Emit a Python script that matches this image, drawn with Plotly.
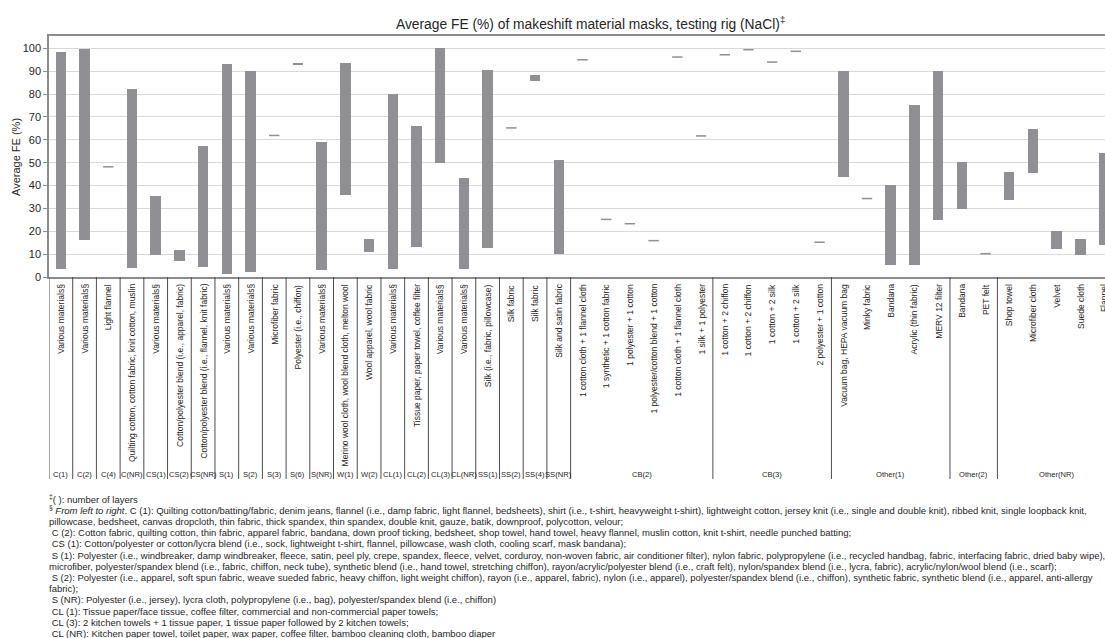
import plotly.graph_objects as go

# ---- data -------------------------------------------------------------
labels = [
    "Various materials§", "Various materials§", "Light flannel",
    "Quilting cotton, cotton fabric, knit cotton, muslin", "Various materials§",
    "Cotton/polyester blend (i.e., apparel, fabric)",
    "Cotton/polyester blend (i.e., flannel, knit fabric)",
    "Various materials§", "Various materials§", "Microfiber fabric",
    "Polyester (i.e., chiffon)", "Various materials§",
    "Merino wool cloth, wool blend cloth, melton wool", "Wool apparel, wool fabric",
    "Various materials§", "Tissue paper, paper towel, coffee filter",
    "Various materials§", "Various materials§", "Silk (i.e., fabric, pillowcase)",
    "Silk fabric", "Silk fabric", "Silk and satin fabric",
    "1 cotton cloth + 1 flannel cloth", "1 synthetic + 1 cotton fabric",
    "1 polyester + 1 cotton", "1 polyester/cotton blend + 1 cotton",
    "1 cotton cloth + 1 flannel cloth", "1 silk + 1 polyester",
    "1 cotton + 2 chiffon", "1 cotton + 2 chiffon", "1 cotton + 2 silk",
    "1 cotton + 2 silk", "2 polyester + 1 cotton",
    "Vacuum bag, HEPA vacuum bag", "Minky fabric", "Bandana",
    "Acrylic (thin fabric)", "MERV 12 filter",
    "Bandana", "PET felt",
    "Shop towel", "Microfiber cloth", "Velvet", "Suede cloth", "Flannel",
]

groups = ["C(1)", "C(2)", "C(4)", "C(NR)", "CS(1)", "CS(2)", "CS(NR)", "S(1)",
          "S(2)", "S(3)", "S(6)", "S(NR)", "W(1)", "W(2)", "CL(1)", "CL(2)",
          "CL(3)", "CL(NR)", "SS(1)", "SS(2)", "SS(4)", "SS(NR)",
          "CB(2)", "CB(3)", "Other(1)", "Other(2)", "Other(NR)"]
group_sizes = [1] * 22 + [6, 5, 5, 2, 5]

fe_low = [3.6, 16.2, 48.2, 3.8, 9.8, 7.2, 4.5, 1.5, 2.0, 61.9, 92.8, 2.9, 36.0,
          10.9, 3.4, 13.3, 49.7, 3.6, 12.7, 65.2, 85.8, 10.1, 95.0, 25.2, 23.3,
          15.9, 96.2, 61.7, 97.2, 99.4, 94.0, 98.7, 15.2, 43.7, 34.3, 5.1, 5.1,
          24.9, 29.9, 10.2, 33.5, 45.6, 12.2, 9.5, 13.8]
fe_high = [98.5, 99.7, 48.2, 82.1, 35.6, 11.8, 57.3, 93.0, 90.2, 61.9, 93.6,
           59.0, 93.7, 16.8, 80.2, 66.0, 100.0, 43.4, 90.4, 65.2, 88.2, 51.2,
           95.0, 25.2, 23.3, 15.9, 96.2, 61.7, 97.2, 99.4, 94.0, 98.7, 15.2,
           90.2, 34.3, 40.1, 75.1, 90.2, 50.1, 10.2, 45.8, 64.6, 20.0, 16.8, 54.2]

y_ticks = [0, 10, 20, 30, 40, 50, 60, 70, 80, 90, 100]

footnotes = [
    "<sup>‡</sup>( ): number of layers",
    "<sup>§</sup> <i>From left to right</i>. C (1): Quilting cotton/batting/fabric, denim jeans, flannel (i.e., damp fabric, light flannel, bedsheets), shirt (i.e., t-shirt, heavyweight t-shirt), lightweight cotton, jersey knit (i.e., single and double knit), ribbed knit, single loopback knit,",
    "pillowcase, bedsheet, canvas dropcloth, thin fabric, thick spandex, thin spandex, double knit, gauze, batik, downproof, polycotton, velour;",
    "\u00a0C (2): Cotton fabric, quilting cotton, thin fabric, apparel fabric, bandana, down proof ticking, bedsheet, shop towel, hand towel, heavy flannel, muslin cotton, knit t-shirt, needle punched batting;",
    "\u00a0CS (1): Cotton/polyester or cotton/lycra blend (i.e., sock, lightweight t-shirt, flannel, pillowcase, wash cloth, cooling scarf, mask bandana);",
    "\u00a0S (1): Polyester (i.e., windbreaker, damp windbreaker, fleece, satin, peel ply, crepe, spandex, fleece, velvet, corduroy, non-woven fabric, air conditioner filter), nylon fabric, polypropylene (i.e., recycled handbag, fabric, interfacing fabric, dried baby wipe),",
    "microfiber, polyester/spandex blend (i.e., fabric, chiffon, neck tube), synthetic blend (i.e., hand towel, stretching chiffon), rayon/acrylic/polyester blend (i.e., craft felt), nylon/spandex blend (i.e., lycra, fabric), acrylic/nylon/wool blend (i.e., scarf);",
    "\u00a0S (2): Polyester (i.e., apparel, soft spun fabric, weave sueded fabric, heavy chiffon, light weight chiffon), rayon (i.e., apparel, fabric), nylon (i.e., apparel), polyester/spandex blend (i.e., chiffon), synthetic fabric, synthetic blend (i.e., apparel, anti-allergy",
    "fabric);",
    "\u00a0S (NR): Polyester (i.e., jersey), lycra cloth, polypropylene (i.e., bag), polyester/spandex blend (i.e., chiffon)",
    "\u00a0CL (1): Tissue paper/face tissue, coffee filter, commercial and non-commercial paper towels;",
    "\u00a0CL (3): 2 kitchen towels + 1 tissue paper, 1 tissue paper followed by 2 kitchen towels;",
    "\u00a0CL (NR): Kitchen paper towel, toilet paper, wax paper, coffee filter, bamboo cleaning cloth, bamboo diaper",
]

# ---- page geometry (pixels) --------------------------------------------
W, H = 1105, 638
PL, PT, PB = 49, 36, 277          # plot-area left / top / bottom
CAT_W = 23.71                      # width of one category slot
n = len(labels)
x_end = -0.5 + (W - PL) / CAT_W    # the last slot runs past the page edge


def py(pix):
    """paper y for a pixel row"""
    return (PB - pix) / (PB - PT)


def px(pix):
    """paper x for a pixel column"""
    return (pix - PL) / (W - PL)


FONT = "Liberation Sans, Arial, Helvetica, sans-serif"
BAR = "#8f8f94"
TXT = "#262626"

idx = list(range(n))
rng = [(i, lo, hi) for i, lo, hi in zip(idx, fe_low, fe_high) if hi > lo]
pts = [(i, lo) for i, lo, hi in zip(idx, fe_low, fe_high) if hi == lo]

fig = go.Figure()
fig.add_trace(go.Bar(
    x=[r[0] for r in rng],
    y=[r[2] - r[1] for r in rng],
    base=[r[1] for r in rng],
    width=0.44,
    marker=dict(color=BAR, line=dict(width=0)),
    hoverinfo="skip",
    showlegend=False,
))
fig.add_trace(go.Scatter(
    x=[p[0] for p in pts],
    y=[p[1] for p in pts],
    mode="markers",
    marker=dict(symbol="line-ew", size=7.4, line=dict(width=1.5, color=BAR)),
    hoverinfo="skip",
    showlegend=False,
))

annotations = []

# rotated category labels
for i, lab in enumerate(labels):
    annotations.append(dict(
        x=i, xref="x", y=py(282), yref="paper", text=lab, textangle=-90,
        xanchor="center", yanchor="top", showarrow=False,
        font=dict(family=FONT, size=8.5, color=TXT),
    ))

# group labels and separators
shapes = []
start = 0
for g, s in zip(groups, group_sizes):
    annotations.append(dict(
        x=start + (s - 1) / 2, xref="x", y=py(474), yref="paper", text=g,
        xanchor="center", yanchor="middle", showarrow=False,
        font=dict(family=FONT, size=7.6, color=TXT),
    ))
    shapes.append(dict(
        type="line", xref="x", yref="paper", x0=start - 0.5, x1=start - 0.5,
        y0=py(PB), y1=py(479), line=dict(color="#4d4d4d", width=1),
    ))
    start += s

# chart title
annotations.append(dict(
    x=px(590), xref="paper", y=py(23), yref="paper",
    text="Average FE (%) of makeshift material masks, testing rig (NaCl)<sup>‡</sup>",
    xanchor="center", yanchor="middle", showarrow=False,
    font=dict(family=FONT, size=13.8, color=TXT),
))

# y-axis title
annotations.append(dict(
    x=px(16), xref="paper", y=py(157), yref="paper", text="Average FE (%)",
    textangle=-90, xanchor="center", yanchor="middle", showarrow=False,
    font=dict(family=FONT, size=11, color=TXT),
))

# footnotes
for k, line in enumerate(footnotes):
    annotations.append(dict(
        x=px(47), xref="paper", y=py(499 + k * 11.2), yref="paper", text=line,
        xanchor="left", yanchor="middle", showarrow=False, align="left",
        font=dict(family=FONT, size=9.5, color=TXT),
    ))

fig.update_layout(
    width=W, height=H,
    margin=dict(l=PL, r=0, t=PT, b=H - PB, pad=0),
    paper_bgcolor="white", plot_bgcolor="white",
    bargap=0,
    xaxis=dict(
        range=[-0.5, x_end], showgrid=False, zeroline=False,
        showticklabels=False, ticks="", showline=True, mirror=True,
        linecolor="#8c8c8c", linewidth=1.5,
    ),
    yaxis=dict(
        range=[0, 105.4], tickvals=y_ticks, showgrid=True,
        gridcolor="#d9d9d9", gridwidth=1, zeroline=False, showline=True,
        linecolor="#8c8c8c", linewidth=1.5, ticks="outside", ticklen=4,
        tickcolor="#8c8c8c", tickfont=dict(family=FONT, size=11, color=TXT),
    ),
    annotations=annotations,
    shapes=shapes,
)

fig.write_html("out.html")
